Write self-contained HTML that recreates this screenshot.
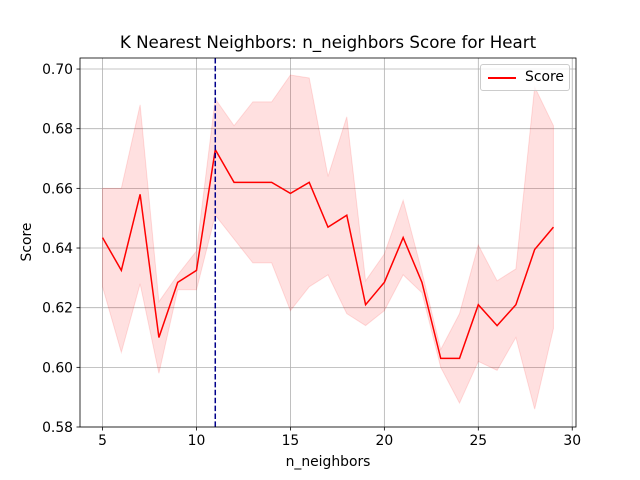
<!DOCTYPE html>
<html><head><meta charset="utf-8"><style>body{margin:0;background:#fff}svg{display:block;font-family:"DejaVu Sans","Liberation Sans",sans-serif}</style></head>
<body>
<svg id="chart" width="640" height="480"></svg>
<script>
const ks=[5,6,7,8,9,10,11,12,13,14,15,16,17,18,19,20,21,22,23,24,25,26,27,28,29];
const scores=[0.6435,0.6325,0.658,0.610,0.6285,0.6325,0.673,0.662,0.662,0.662,0.6583,0.662,0.647,0.651,0.621,0.6285,0.6435,0.6285,0.603,0.603,0.621,0.614,0.621,0.6395,0.647];
const upper=[0.660,0.660,0.688,0.622,0.631,0.639,0.690,0.681,0.689,0.689,0.698,0.697,0.664,0.684,0.629,0.638,0.656,0.632,0.606,0.618,0.641,0.629,0.633,0.694,0.681];
const lower=[0.627,0.605,0.628,0.598,0.626,0.626,0.651,0.643,0.635,0.635,0.619,0.627,0.631,0.618,0.614,0.619,0.631,0.625,0.600,0.588,0.602,0.599,0.610,0.586,0.613];
const xTicks=[5,10,15,20,25,30];
const yTicks=[0.58,0.60,0.62,0.64,0.66,0.68,0.70];
const bestK=11;
const L=80,R=576,T=58,B=427,xmin=3.8,xmax=30.2,ymin=0.58,ymax=0.7037;
const X=v=>L+(v-xmin)/(xmax-xmin)*(R-L), Y=v=>B-(v-ymin)/(ymax-ymin)*(B-T);
const svg=document.getElementById('chart');const NS='http://www.w3.org/2000/svg';
function mk(t,a,txt){const e=document.createElementNS(NS,t);for(const k in a)e.setAttribute(k,a[k]);if(txt!==undefined)e.textContent=txt;svg.appendChild(e);return e;}
xTicks.forEach(t=>{const x=X(t);
const g=mk('line',{x1:x,x2:x,y1:T,y2:B,stroke:'#b0b0b0','stroke-width':0.8});

mk('line',{x1:x,x2:x,y1:B,y2:B+3.5,stroke:'#000','stroke-width':0.8});
const l=mk('text',{x:x,y:B+18,'text-anchor':'middle','font-size':13.9},String(t));
});
yTicks.forEach(t=>{const y=Y(t);
const g=mk('line',{x1:L,x2:R,y1:y,y2:y,stroke:'#b0b0b0','stroke-width':0.8});

mk('line',{x1:L-3.5,x2:L,y1:y,y2:y,stroke:'#000','stroke-width':0.8});
const l=mk('text',{x:L-7,y:y+5,'text-anchor':'end','font-size':13.9},t.toFixed(2));
});
let d=ks.map((k,i)=>(i?'L':'M')+X(k)+','+Y(upper[i])).join('');
for(let i=ks.length-1;i>=0;i--)d+='L'+X(ks[i])+','+Y(lower[i]);
const band=mk('path',{d:d+'Z',fill:'#ff0000','fill-opacity':0.12,stroke:'#ff0000','stroke-opacity':0.12});

const line=mk('path',{d:ks.map((k,i)=>(i?'L':'M')+X(k)+','+Y(scores[i])).join(''),fill:'none',stroke:'#ff0000','stroke-width':1.5});

const vl=mk('line',{x1:X(bestK),x2:X(bestK),y1:T,y2:B,stroke:'#00008b','stroke-width':1.5,'stroke-dasharray':'5.5,2.4'});

const fr=mk('rect',{x:L,y:T,width:R-L,height:B-T,fill:'none',stroke:'#000','stroke-width':0.8});

</script>
<div style="position:absolute;left:0;top:0;width:640px;height:480px;pointer-events:none;font-family:'DejaVu Sans','Liberation Sans',sans-serif">
<div style="position:absolute;left:0;width:656px;top:32px;text-align:center;font-size:16.7px">K Nearest Neighbors: n_neighbors Score for Heart</div>
<div style="position:absolute;left:0;width:656px;top:454px;text-align:center;font-size:13.9px">n_neighbors</div>
<div style="position:absolute;left:-3px;top:242px;font-size:13.9px;transform:translate(0,-50%) rotate(-90deg);transform-origin:center;width:60px;text-align:center">Score</div>
<div style="position:absolute;left:480px;top:64px;width:90px;height:27px;border:1px solid #ccc;border-radius:3px;background:rgba(255,255,255,0.8);box-sizing:border-box">
<div style="position:absolute;left:7px;top:12px;width:28px;height:2px;background:#ff0000"></div>
<div style="position:absolute;left:44px;top:4px;font-size:13.9px">Score</div></div>
</div>
</body></html>
